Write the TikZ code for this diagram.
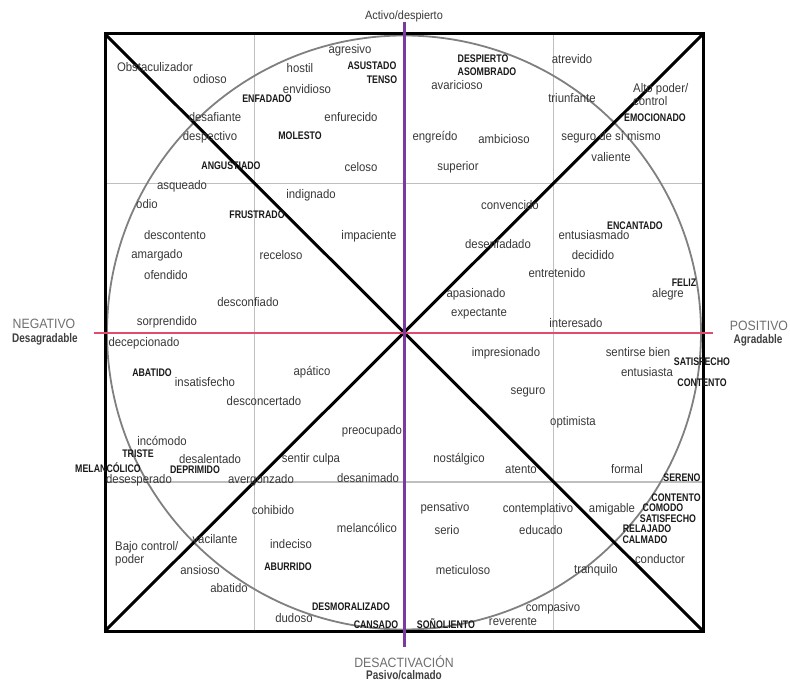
\documentclass[tikz,border=0pt]{standalone}
\usepackage{fontspec}
\setmainfont{Liberation Sans}
\newfontfamily\emofont[FakeStretch=0.91]{Liberation Sans}
\newfontfamily\moodfont[FakeStretch=0.8]{Liberation Sans}
\usetikzlibrary{calc}

\definecolor{axispurple}{HTML}{7B3A9E}
\definecolor{axispink}{HTML}{E24A6E}
\definecolor{wordgray}{HTML}{383838}
\definecolor{titlegray}{HTML}{6E6E6E}

\begin{document}
\begin{tikzpicture}[x=1pt,y=-1pt,
  emo/.style={inner sep=0pt,text=wordgray,font=\emofont\fontsize{12.5}{14}\selectfont},
  mood/.style={inner sep=0pt,text=black!90,font=\moodfont\bfseries\fontsize{11}{12}\selectfont},
  axtitle/.style={inner sep=0pt,text=titlegray,font=\emofont\fontsize{13.5}{15}\selectfont},
  axsub/.style={inner sep=0pt,text=black!75,font=\moodfont\bfseries\fontsize{12.5}{13}\selectfont}]
  \useasboundingbox (0,0) rectangle (790,682);
  % square, centre and axis ends
  \coordinate (NW) at (105,34);
  \coordinate (NE) at (703,34);
  \coordinate (SE) at (703,631);
  \coordinate (SW) at (105,631);
  \coordinate (O) at ($(NW)!0.5!(SE)$);
  \coordinate (Vtop) at (404,22);
  \coordinate (Vbot) at (404,647);
  \coordinate (Hleft) at (94,333);
  \coordinate (Hright) at (713,333);
  % grid
  \path[draw=black!25,line width=1.5pt] ($(NW)!0.25!(NE)$) edge ($(SW)!0.25!(SE)$);
  \path[draw=black!25,line width=1.5pt] ($(NW)!0.75!(NE)$) edge ($(SW)!0.75!(SE)$);
  \path[draw=black!25,line width=1.5pt] ($(NW)!0.25!(SW)$) edge ($(NE)!0.25!(SE)$);
  \path[draw=black!25,line width=1.5pt] ($(NW)!0.75!(SW)$) edge ($(NE)!0.75!(SE)$);
  \draw[black!50,line width=1.8pt] (O) circle[radius=297pt];
  % diagonals and frame
  \path[draw,line width=3pt] (NW) edge (SE);
  \path[draw,line width=3pt] (SW) edge (NE);
  \draw[line width=3pt] (NW) -- (NE) -- (SE) -- (SW) -- cycle;
  \path[draw=axispink,line width=2.5pt] (Hleft) edge (Hright);
  \path[draw=axispurple,line width=3pt] (Vtop) edge (Vbot);
  % axis titles
  \node[emo,font=\emofont\fontsize{12}{14}\selectfont] (activo) at (404,16) {Activo/despierto};
  \node[axtitle] (negativo) at (44,324) {NEGATIVO};
  \node[axsub] (desagradable) at (45,339) {Desagradable};
  \node[axtitle] (positivo) at (759,326) {POSITIVO};
  \node[axsub] (agradable) at (758,340) {Agradable};
  \node[axtitle] (desactivacion) at (404,662) {DESACTIVACIÓN};
  \node[axsub] (pasivo) at (404,675) {Pasivo/calmado};
  % top left
  \node[emo] (obstaculizador) at (155,67) {Obstaculizador};
  \node[emo] (odioso) at (210,79) {odioso};
  \node[emo] (hostil) at (300,68) {hostil};
  \node[emo] (agresivo) at (350,50) {agresivo};
  \node[mood] (asustado) at (372,66) {ASUSTADO};
  \node[mood] (tenso) at (382,80) {TENSO};
  \node[emo] (envidioso) at (307,89) {envidioso};
  \node[mood] (enfadado) at (267,99) {ENFADADO};
  \node[emo] (desafiante) at (215,117) {desafiante};
  \node[emo] (enfurecido) at (351,117) {enfurecido};
  \node[emo] (despectivo) at (210,137) {despectivo};
  \node[mood] (molesto) at (300,136) {MOLESTO};
  \node[mood] (angustiado) at (231,166) {ANGUSTIADO};
  \node[emo] (celoso) at (361,167) {celoso};
  \node[emo] (asqueado) at (182,186) {asqueado};
  \node[emo] (odio) at (147,204) {odio};
  \node[emo] (indignado) at (311,195) {indignado};
  \node[mood] (frustrado) at (257,215) {FRUSTRADO};
  \node[emo] (descontento) at (175,235) {descontento};
  \node[emo] (impaciente) at (369,236) {impaciente};
  \node[emo] (amargado) at (157,255) {amargado};
  \node[emo] (receloso) at (281,255) {receloso};
  \node[emo] (ofendido) at (166,275) {ofendido};
  \node[emo] (desconfiado) at (248,302) {desconfiado};
  \node[emo] (sorprendido) at (167,322) {sorprendido};
  % top right
  \node[mood] (despierto) at (483,59) {DESPIERTO};
  \node[mood] (asombrado) at (487,72) {ASOMBRADO};
  \node[emo] (avaricioso) at (457,85) {avaricioso};
  \node[emo] (atrevido) at (572,59) {atrevido};
  \node[emo] (triunfante) at (572,98) {triunfante};
  \node[emo,align=left,anchor=west,font=\emofont\fontsize{12.5}{13}\selectfont] (altopoder) at (633,95) {Alto poder/\\control};
  \node[mood] (emocionado) at (655,118) {EMOCIONADO};
  \node[emo] (engreido) at (435,137) {engreído};
  \node[emo] (ambicioso) at (504,139) {ambicioso};
  \node[emo] (seguromismo) at (611,137) {seguro de sí mismo};
  \node[emo] (valiente) at (611,157) {valiente};
  \node[emo] (superior) at (458,167) {superior};
  \node[emo] (convencido) at (510,205) {convencido};
  \node[mood] (encantado) at (635,226) {ENCANTADO};
  \node[emo] (entusiasmado) at (594,235) {entusiasmado};
  \node[emo] (desenfadado) at (498,244) {desenfadado};
  \node[emo] (decidido) at (593,255) {decidido};
  \node[emo] (entretenido) at (557,273) {entretenido};
  \node[mood] (feliz) at (684,283) {FELIZ};
  \node[emo] (alegre) at (668,294) {alegre};
  \node[emo] (apasionado) at (476,294) {apasionado};
  \node[emo] (expectante) at (479,314) {expectante};
  \node[emo] (interesado) at (576,323) {interesado};
  % bottom left
  \node[emo] (decepcionado) at (144,343) {decepcionado};
  \node[mood] (abatidoup) at (152,373) {ABATIDO};
  \node[emo] (insatisfecho) at (205,382) {insatisfecho};
  \node[emo] (apatico) at (312,372) {apático};
  \node[emo] (desconcertado) at (264,401) {desconcertado};
  \node[emo] (preocupado) at (372,431) {preocupado};
  \node[emo] (incomodo) at (162,441) {incómodo};
  \node[mood] (triste) at (138,454) {TRISTE};
  \node[emo] (desalentado) at (210,459) {desalentado};
  \node[emo] (sentirculpa) at (311,459) {sentir culpa};
  \node[mood] (melancolicoup) at (108,468) {MELANCÓLICO};
  \node[mood] (deprimido) at (195,470) {DEPRIMIDO};
  \node[emo] (desesperado) at (139,480) {desesperado};
  \node[emo] (avergonzado) at (261,480) {avergonzado};
  \node[emo] (desanimado) at (368,478) {desanimado};
  \node[emo] (cohibido) at (273,510) {cohibido};
  \node[emo] (melancolico) at (367,528) {melancólico};
  \node[emo,align=left,anchor=west,font=\emofont\fontsize{12.5}{13}\selectfont] (bajocontrol) at (115,554) {Bajo control/\\poder};
  \node[emo] (vacilante) at (215,539) {vacilante};
  \node[emo] (indeciso) at (291,544) {indeciso};
  \node[mood] (aburrido) at (288,567) {ABURRIDO};
  \node[emo] (ansioso) at (200,570) {ansioso};
  \node[emo] (abatido) at (229,588) {abatido};
  \node[mood] (desmoralizado) at (351,607) {DESMORALIZADO};
  \node[emo] (dudoso) at (294,618) {dudoso};
  \node[mood] (cansado) at (376,625) {CANSADO};
  % bottom right
  \node[emo] (impresionado) at (506,353) {impresionado};
  \node[emo] (sentirsebien) at (638,352) {sentirse bien};
  \node[mood] (satisfechoup) at (702,362) {SATISFECHO};
  \node[emo] (entusiasta) at (647,372) {entusiasta};
  \node[mood] (contentoup) at (702,383) {CONTENTO};
  \node[emo] (seguro) at (528,392) {seguro};
  \node[emo] (optimista) at (573,422) {optimista};
  \node[emo] (nostalgico) at (459,459) {nostálgico};
  \node[emo] (atento) at (521,470) {atento};
  \node[emo] (formal) at (627,469) {formal};
  \node[mood] (sereno) at (682,478) {SERENO};
  \node[mood] (contentodown) at (676,498) {CONTENTO};
  \node[mood] (comodo) at (663,508) {COMODO};
  \node[mood] (satisfechodown) at (668,519) {SATISFECHO};
  \node[mood] (relajado) at (647,529) {RELAJADO};
  \node[mood] (calmado) at (645,540) {CALMADO};
  \node[emo] (pensativo) at (445,508) {pensativo};
  \node[emo] (contemplativo) at (538,509) {contemplativo};
  \node[emo] (amigable) at (612,509) {amigable};
  \node[emo] (serio) at (447,530) {serio};
  \node[emo] (educado) at (541,530) {educado};
  \node[emo] (conductor) at (660,559) {conductor};
  \node[emo] (meticuloso) at (463,570) {meticuloso};
  \node[emo] (tranquilo) at (596,570) {tranquilo};
  \node[emo] (compasivo) at (553,608) {compasivo};
  \node[mood] (sonoliento) at (446,624) {SOÑOLIENTO};
  \node[emo] (reverente) at (513,622) {reverente};
\end{tikzpicture}
\end{document}
